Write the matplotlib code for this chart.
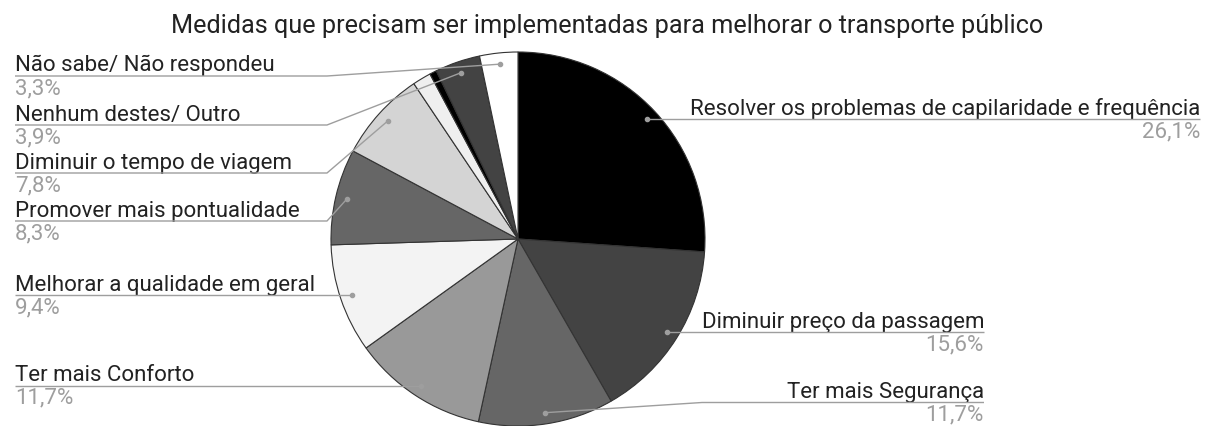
import matplotlib
matplotlib.use("Agg")
import matplotlib.pyplot as plt
import numpy as np

plt.rcParams['font.family'] = ['Roboto', 'DejaVu Sans']

title = "Medidas que precisam ser implementadas para melhorar o transporte público"
categories = ["Resolver os problemas de capilaridade e frequência",
              "Diminuir preço da passagem",
              "Ter mais Segurança",
              "Ter mais Conforto",
              "Melhorar a qualidade em geral",
              "Promover mais pontualidade",
              "Diminuir o tempo de viagem",
              "",
              "",
              "Nenhum destes/ Outro",
              "Não sabe/ Não respondeu"]
values = [26.1, 15.6, 11.7, 11.7, 9.4, 8.3, 7.8, 1.6, 0.6, 3.9, 3.3]
colors = ["#000000", "#434343", "#666666", "#999999", "#f3f3f3", "#666666",
          "#d4d4d4", "#efefef", "#000000", "#434343", "#ffffff"]

W, H = 1214, 426
fig = plt.figure(figsize=(W / 100, H / 100), dpi=100)
ax = fig.add_axes([0, 0, 1, 1])

cx, cy, R = 518, H - 239, 187
wedges, _ = ax.pie(values, colors=colors, startangle=90, counterclock=False,
                   center=(cx, cy), radius=R, frame=True,
                   wedgeprops=dict(edgecolor="#333333", linewidth=0.8))
ax.set_xlim(0, W)
ax.set_ylim(0, H)
ax.set_aspect('equal')
ax.axis('off')

# layout: (side, text x, underline y in image px or None, kink x or None)
layout = {
    0: ("right", 1200, None, None),
    1: ("right", 984, None, None),
    2: ("right", 984, 402.5, 702),
    3: ("left", 15, None, None),
    4: ("left", 15, None, None),
    5: ("left", 15, 221, 327),
    6: ("left", 15, 173, 327),
    9: ("left", 15, 125, 327),
    10: ("left", 15, 76, 327),
}

line_c = "#9e9e9e"
fs = 16
for i, w in enumerate(wedges):
    if i not in layout:
        continue
    side, tx, uy, kx = layout[i]
    mid = np.deg2rad((w.theta1 + w.theta2) / 2)
    dx = cx + 0.94 * R * np.cos(mid)
    dy = cy + 0.94 * R * np.sin(mid)
    Y = dy if uy is None else H - uy
    if kx is None:
        xs, ys = [dx, tx], [dy, Y]
    else:
        xs, ys = [dx, kx, tx], [dy, Y, Y]
    ax.plot(xs, ys, color=line_c, lw=1, solid_capstyle='butt', zorder=5)
    ax.plot([dx], [dy], 'o', color=line_c, ms=3, zorder=6)
    ha = 'left' if side == 'left' else 'right'
    ax.text(tx, Y + 4.5, categories[i], ha=ha, va='baseline', fontsize=fs,
            color="#222222")
    pct = f"{values[i]:.1f}".replace(".", ",") + "%"
    ax.text(tx, Y - 2, pct, ha=ha, va='top', fontsize=fs, color="#9e9e9e")

ax.text(607, H - 33.5, title, ha='center', va='baseline', fontsize=18.2,
        color="#222222")

fig.savefig("out.png", dpi=100)
